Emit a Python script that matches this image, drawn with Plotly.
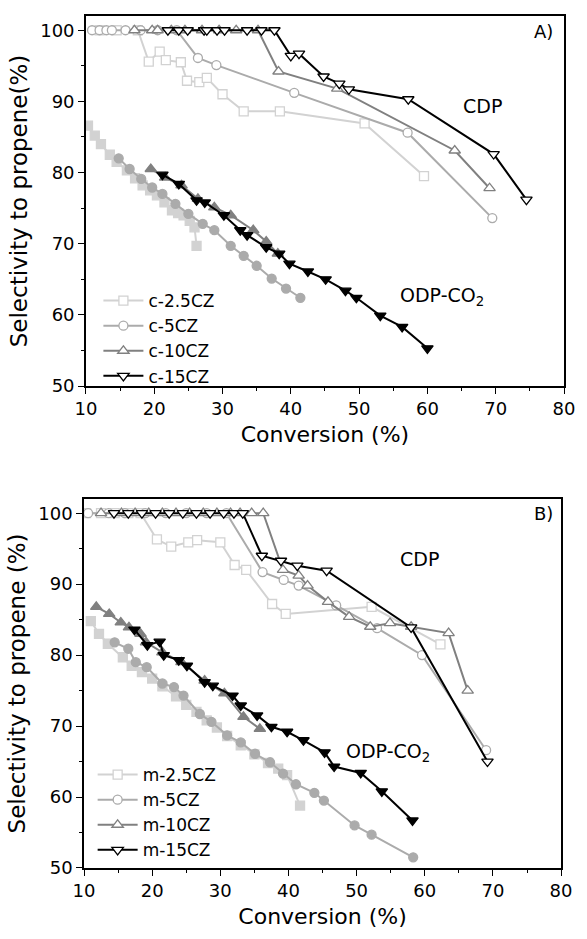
import plotly.graph_objects as go

# ---------------- Panel A (c-series) ----------------
# CDP (open markers)
c25_cdp_x = [12.0, 14.5, 17.6, 19.2, 20.8, 21.7, 23.9, 24.8, 26.6, 27.7, 30.0, 33.1, 38.4, 50.8, 59.5]
c25_cdp_y = [100, 100, 100, 95.6, 97.0, 95.8, 95.5, 92.9, 92.7, 93.3, 91.0, 88.6, 88.6, 86.9, 79.5]
c5_cdp_x = [10.9, 12.0, 13.0, 13.8, 15.8, 18.0, 20.5, 23.3, 26.4, 29.1, 40.5, 57.1, 69.5]
c5_cdp_y = [100, 100, 100, 100, 100, 100, 100, 100, 96.1, 95.1, 91.2, 85.6, 73.6]
c10_cdp_x = [17.1, 19.7, 20.5, 22.5, 24.5, 27.0, 29.5, 32.0, 35.2, 38.2, 46.8, 64.0, 69.1]
c10_cdp_y = [100, 100, 100, 100, 100, 100, 100, 100, 100, 94.2, 91.8, 83.1, 77.8]
c15_cdp_x = [22.0, 23.6, 24.9, 27.3, 27.7, 29.2, 30.3, 33.6, 35.7, 37.6, 40.0, 41.2, 44.8, 47.1, 48.5, 57.2, 69.7, 74.5]
c15_cdp_y = [100, 100, 100, 100, 100, 100, 100, 100, 100, 100, 96.4, 96.7, 93.5, 92.5, 91.7, 90.3, 82.6, 76.2]
# ODP-CO2 (filled markers)
c25_odp_x = [10.3, 11.3, 12.2, 13.5, 14.5, 16.0, 17.2, 18.3, 19.4, 20.4, 21.5, 22.6, 23.5, 24.3, 25.2, 25.9, 26.2]
c25_odp_y = [86.6, 85.2, 84.0, 82.5, 81.5, 80.3, 79.2, 78.2, 77.5, 76.8, 75.8, 74.7, 74.3, 74.0, 73.2, 72.3, 69.7]
c5_odp_x = [14.8, 16.4, 18.1, 19.7, 21.2, 23.1, 25.0, 27.1, 28.8, 31.2, 33.1, 35.0, 37.2, 39.3, 41.4]
c5_odp_y = [82.0, 80.5, 79.1, 77.9, 77.0, 75.6, 74.2, 72.8, 71.9, 69.7, 68.3, 66.9, 65.1, 63.7, 62.4]
c10_odp_x = [19.5, 21.6, 24.0, 26.4, 28.8, 31.2, 34.5, 36.4, 38.1]
c10_odp_y = [80.5, 79.3, 78.2, 76.3, 75.1, 74.0, 71.9, 70.3, 68.6]
c15_odp_x = [21.2, 23.6, 26.2, 27.4, 30.2, 32.6, 33.6, 36.4, 38.3, 39.8, 42.5, 45.1, 48.0, 49.6, 53.1, 56.3, 60.0]
c15_odp_y = [79.7, 78.4, 76.1, 75.8, 74.0, 71.9, 71.2, 69.5, 68.6, 67.2, 66.1, 65.0, 63.4, 62.4, 59.9, 58.3, 55.3]

# ---------------- Panel B (m-series) ----------------
m25_cdp_x = [10.3, 12.5, 14.5, 16.5, 18.3, 20.7, 22.8, 25.3, 26.6, 30.0, 32.1, 33.8, 37.6, 39.6, 52.2, 62.3]
m25_cdp_y = [100, 100, 100, 100, 100, 96.3, 95.3, 95.9, 96.2, 95.9, 92.7, 92.0, 87.2, 85.8, 86.8, 81.5]
m5_cdp_x = [10.6, 13.6, 16.0, 19.0, 22.0, 25.0, 28.0, 30.9, 36.2, 39.3, 41.5, 47.0, 53.0, 59.6, 69.0]
m5_cdp_y = [100, 100, 100, 100, 100, 100, 100, 100, 91.7, 90.6, 89.8, 87.0, 83.8, 80.0, 66.6]
m10_cdp_x = [12.5, 15.5, 17.5, 19.5, 21.5, 23.5, 25.5, 27.5, 29.5, 31.5, 32.9, 34.6, 36.3, 39.2, 41.5, 42.8, 45.8, 48.9, 52.0, 54.9, 58.0, 63.5, 66.3]
m10_cdp_y = [100, 100, 100, 100, 100, 100, 100, 100, 100, 100, 100, 100, 100, 92.0, 91.2, 89.8, 87.5, 85.4, 84.0, 84.5, 84.0, 83.1, 75.0]
m15_cdp_x = [14.4, 16.5, 18.5, 20.5, 22.5, 24.5, 26.5, 28.5, 30.5, 32.0, 33.3, 36.1, 38.9, 41.3, 45.6, 58.0, 69.2]
m15_cdp_y = [100, 100, 100, 100, 100, 100, 100, 100, 100, 100, 100, 94.0, 93.3, 92.6, 91.9, 83.9, 65.0]
m25_odp_x = [11.0, 12.2, 13.5, 15.7, 17.0, 18.5, 20.0, 21.5, 23.5, 25.0, 26.5, 28.0, 29.5, 31.0, 33.0, 35.0, 37.0, 38.5, 39.8, 41.7]
m25_odp_y = [84.8, 83.0, 81.6, 79.7, 78.5, 77.6, 76.7, 75.6, 74.2, 73.0, 72.0, 70.8, 69.8, 68.6, 67.3, 66.0, 64.8, 64.0, 63.1, 58.8]
m5_odp_x = [14.5, 16.5, 17.6, 19.2, 21.5, 23.2, 24.6, 27.0, 28.7, 31.0, 33.0, 35.1, 37.3, 39.2, 41.1, 43.8, 45.2, 49.7, 52.2, 58.3]
m5_odp_y = [81.8, 80.9, 79.0, 78.3, 76.0, 75.5, 74.3, 71.7, 70.6, 68.7, 67.7, 66.1, 64.9, 63.3, 61.8, 60.6, 59.5, 56.0, 54.7, 51.5]
m10_odp_x = [11.8, 13.7, 15.4, 16.6, 18.3, 19.1, 21.5, 24.3, 27.7, 30.6, 33.4, 35.8]
m10_odp_y = [86.8, 85.8, 84.6, 83.9, 83.0, 81.8, 80.4, 79.0, 76.4, 74.6, 71.3, 69.6]
m15_odp_x = [17.4, 19.3, 21.1, 21.7, 23.9, 25.1, 27.7, 28.9, 31.8, 33.0, 35.4, 37.5, 39.8, 42.2, 45.3, 46.7, 50.6, 53.7, 58.2]
m15_odp_y = [83.6, 81.4, 81.9, 80.0, 79.3, 78.5, 76.2, 75.7, 74.3, 72.9, 71.5, 69.9, 69.2, 68.0, 66.3, 64.3, 63.4, 60.8, 56.7]

names_c = ["c-2.5CZ", "c-5CZ", "c-10CZ", "c-15CZ"]
names_m = ["m-2.5CZ", "m-5CZ", "m-10CZ", "m-15CZ"]
colors = ["#d2d2d2", "#ababab", "#808080", "#000000"]
symbols = ["square", "circle", "triangle-up", "triangle-down"]
sizes = [9, 9, 10, 10]

FONT = "DejaVu Sans"
fig = go.Figure()

def add_series(xs, ys, name, color, sym, size, filled, xa, ya, legend, show):
    fig.add_trace(go.Scatter(
        x=xs, y=ys, mode="lines+markers", name=name,
        line=dict(color=color, width=2),
        marker=dict(symbol=sym, size=size,
                    color=color if filled else "white",
                    line=dict(color=color, width=1.3)),
        xaxis=xa, yaxis=ya, legend=legend, showlegend=show))

c_odp = [(c25_odp_x, c25_odp_y), (c5_odp_x, c5_odp_y), (c10_odp_x, c10_odp_y), (c15_odp_x, c15_odp_y)]
c_cdp = [(c25_cdp_x, c25_cdp_y), (c5_cdp_x, c5_cdp_y), (c10_cdp_x, c10_cdp_y), (c15_cdp_x, c15_cdp_y)]
m_odp = [(m25_odp_x, m25_odp_y), (m5_odp_x, m5_odp_y), (m10_odp_x, m10_odp_y), (m15_odp_x, m15_odp_y)]
m_cdp = [(m25_cdp_x, m25_cdp_y), (m5_cdp_x, m5_cdp_y), (m10_cdp_x, m10_cdp_y), (m15_cdp_x, m15_cdp_y)]

for i in range(4):
    add_series(*c_odp[i], names_c[i], colors[i], symbols[i], sizes[i], True, "x", "y", "legend", False)
for i in range(4):
    add_series(*c_cdp[i], names_c[i], colors[i], symbols[i], sizes[i], False, "x", "y", "legend", True)
for i in range(4):
    add_series(*m_odp[i], names_m[i], colors[i], symbols[i], sizes[i], True, "x2", "y2", "legend2", False)
for i in range(4):
    add_series(*m_cdp[i], names_m[i], colors[i], symbols[i], sizes[i], False, "x2", "y2", "legend2", True)

axis_common = dict(
    showline=True, linecolor="black", linewidth=1.5, mirror=True,
    showgrid=False, zeroline=False, ticks="outside", ticklen=6, tickwidth=1.3,
    tickcolor="black", tickfont=dict(family=FONT, size=18, color="black"),
    minor=dict(ticks="outside", ticklen=3, tickwidth=1.3, tickcolor="black", dtick=5),
)

fig.update_layout(
    width=587, height=939, paper_bgcolor="white", plot_bgcolor="white",
    margin=dict(l=84, r=12, t=16, b=71),
    font=dict(family=FONT, color="black"),
    xaxis=dict(domain=[0.004, 1], range=[10, 80], dtick=10, anchor="y",
               title=dict(text="Conversion (%)", font=dict(size=22), standoff=8), **axis_common),
    yaxis=dict(domain=[0.5657, 1], range=[50, 102], tickvals=[50, 60, 70, 80, 90, 100], anchor="x",
               title=dict(text="Selectivity to propene(%)", font=dict(size=23), standoff=6), **axis_common),
    xaxis2=dict(domain=[0, 0.9939], range=[10, 80], dtick=10, anchor="y2",
                title=dict(text="Conversion (%)", font=dict(size=22), standoff=8), **axis_common),
    yaxis2=dict(domain=[0, 0.4331], range=[50, 102], tickvals=[50, 60, 70, 80, 90, 100], anchor="x2",
                title=dict(text="Selectivity to propene (%)", font=dict(size=23), standoff=6), **axis_common),
    legend=dict(x=0.03, y=0.6866, xanchor="left", yanchor="top", bgcolor="rgba(0,0,0,0)",
                font=dict(family=FONT, size=17), tracegroupgap=0, itemwidth=40),
    legend2=dict(x=0.018, y=0.1303, xanchor="left", yanchor="top", bgcolor="rgba(0,0,0,0)",
                 font=dict(family=FONT, size=17), tracegroupgap=0, itemwidth=40),
    annotations=[
        dict(text="A)", x=0.957, y=0.9816, xref="paper", yref="paper", showarrow=False,
             xanchor="center", yanchor="middle", font=dict(size=18)),
        dict(text="B)", x=0.957, y=0.4163, xref="paper", yref="paper", showarrow=False,
             xanchor="center", yanchor="middle", font=dict(size=18)),
        dict(text="CDP", x=68.1, y=89.4, xref="x", yref="y", showarrow=False, font=dict(size=19)),
        dict(text="ODP-CO<sub>2</sub>", x=62.2, y=62.6, xref="x", yref="y", showarrow=False, font=dict(size=19)),
        dict(text="CDP", x=59.2, y=93.6, xref="x2", yref="y2", showarrow=False, font=dict(size=19)),
        dict(text="ODP-CO<sub>2</sub>", x=54.6, y=66.3, xref="x2", yref="y2", showarrow=False, font=dict(size=19)),
    ],
)

fig.write_html("out.html")
